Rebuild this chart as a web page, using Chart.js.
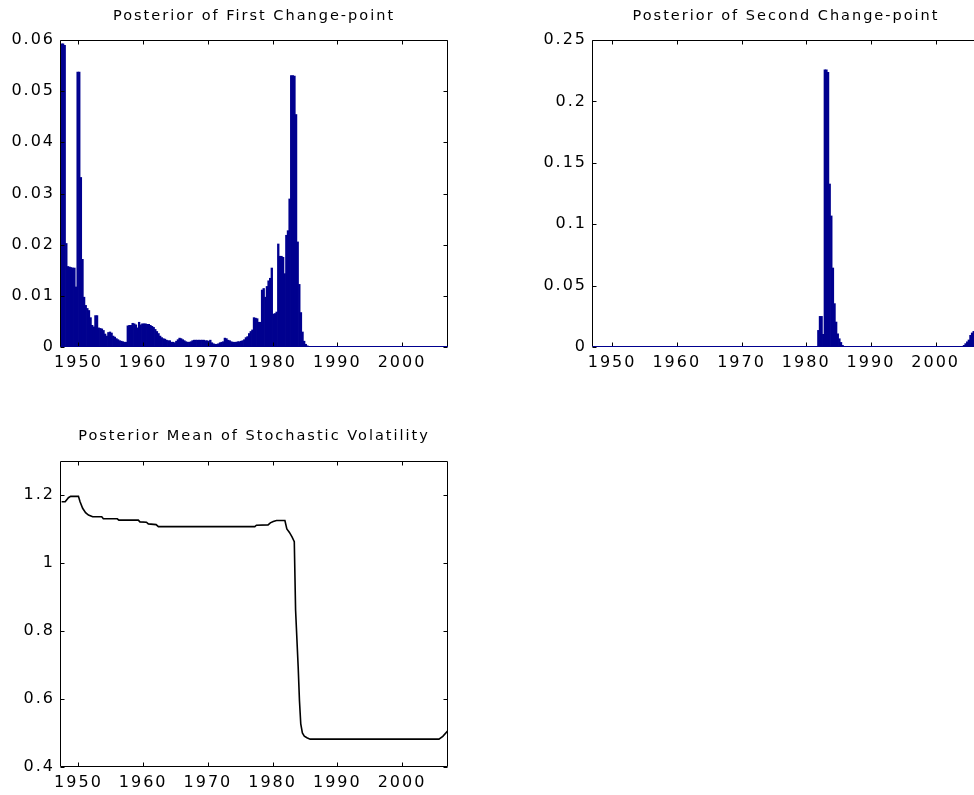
<!DOCTYPE html>
<html>
<head>
<meta charset="utf-8">
<script src="https://cdn.jsdelivr.net/npm/chart.js@4.4.1/dist/chart.umd.min.js"></script>
<style>
  html, body { margin: 0; padding: 0; background: #fff; width: 974px; height: 795px; overflow: hidden; }
  canvas { position: absolute; }
  #c1 { left: 0px; top: 0px; }
  #c2 { left: 532px; top: 0px; }
  #c3 { left: 0px; top: 420px; }
</style>
</head>
<body>
<canvas id="c1" width="480" height="390"></canvas>
<canvas id="c2" width="460" height="390"></canvas>
<canvas id="c3" width="480" height="375"></canvas>
<script>
// ---------- DATA ----------
// Quarterly posterior probabilities; first bin starts at 1947 Q2
const BIN_START = 1947.25;
const BIN_WIDTH = 0.25;

const titles = [
  'Posterior of First Change-point',
  'Posterior of Second Change-point',
  'Posterior Mean of Stochastic Volatility'
];

const xTickValues = [1950, 1960, 1970, 1980, 1990, 2000];
const xTickLabels = ['1950', '1960', '1970', '1980', '1990', '2000'];

const y1TickValues = [0, 0.01, 0.02, 0.03, 0.04, 0.05, 0.06];
const y1TickLabels = ['0', '0.01', '0.02', '0.03', '0.04', '0.05', '0.06'];
const y2TickValues = [0, 0.05, 0.1, 0.15, 0.2, 0.25];
const y2TickLabels = ['0', '0.05', '0.1', '0.15', '0.2', '0.25'];
const y3TickValues = [0.4, 0.6, 0.8, 1.0, 1.2];
const y3TickLabels = ['0.4', '0.6', '0.8', '1', '1.2'];

const firstChangePoint = [
  0.0593, 0.0593, 0.0590, 0.0203, 0.0158, 0.0157, 0.0156, 0.0155, 0.0155, 0.0118,
  0.0538, 0.0538, 0.0332, 0.0172, 0.0098, 0.0082, 0.0076, 0.0072, 0.0058, 0.0043,
  0.0040, 0.0062, 0.0062, 0.0038, 0.0037, 0.0036, 0.0033, 0.0026, 0.0022, 0.0029,
  0.0030, 0.0028, 0.0022, 0.0020, 0.0017, 0.0015, 0.0013, 0.0012, 0.0011, 0.0010,
  0.0010, 0.0042, 0.0043, 0.0043, 0.0047, 0.0046, 0.0044, 0.0038, 0.0049, 0.0044,
  0.0046, 0.0046, 0.0046, 0.0045, 0.0045, 0.0043, 0.0041, 0.0039, 0.0035, 0.0031,
  0.0027, 0.0022, 0.0019, 0.0017, 0.0016, 0.0014, 0.0013, 0.0013, 0.0010, 0.0010,
  0.0009, 0.0012, 0.0015, 0.0018, 0.0017, 0.0015, 0.0013, 0.0011, 0.0010, 0.0010,
  0.0011, 0.0013, 0.0014, 0.0014, 0.0014, 0.0014, 0.0014, 0.0014, 0.0014, 0.0013,
  0.0013, 0.0012, 0.0014, 0.0009, 0.0007, 0.0006, 0.0006, 0.0007, 0.0009, 0.0010,
  0.0011, 0.0018, 0.0017, 0.0014, 0.0013, 0.0011, 0.0010, 0.0010, 0.0010, 0.0011,
  0.0011, 0.0012, 0.0013, 0.0015, 0.0019, 0.0021, 0.0027, 0.0031, 0.0034, 0.0058,
  0.0057, 0.0056, 0.0049, 0.0049, 0.0112, 0.0115, 0.0098, 0.0119, 0.0130, 0.0135,
  0.0155, 0.0065, 0.0066, 0.0069, 0.0202, 0.0178, 0.0178, 0.0176, 0.0144, 0.0219,
  0.0228, 0.0290, 0.0531, 0.0531, 0.0530, 0.0455, 0.0206, 0.0123, 0.0068, 0.0030,
  0.0012, 0.0006, 0.0003, 0.0001,
  0, 0, 0, 0, 0, 0, 0, 0, 0, 0, 0, 0, 0, 0, 0, 0, 0, 0, 0, 0,
  0, 0, 0, 0, 0, 0, 0, 0, 0, 0, 0, 0, 0, 0, 0, 0, 0, 0, 0, 0,
  0, 0, 0, 0, 0, 0, 0, 0, 0, 0, 0, 0, 0, 0, 0, 0, 0, 0, 0, 0,
  0, 0, 0, 0, 0, 0, 0, 0, 0, 0, 0, 0, 0, 0, 0, 0, 0, 0, 0, 0,
  0, 0, 0, 0, 0
];

const secondChangePoint = [
  0, 0, 0, 0, 0, 0, 0, 0, 0, 0, 0, 0, 0, 0, 0, 0, 0, 0, 0, 0,
  0, 0, 0, 0, 0, 0, 0, 0, 0, 0, 0, 0, 0, 0, 0, 0, 0, 0, 0, 0,
  0, 0, 0, 0, 0, 0, 0, 0, 0, 0, 0, 0, 0, 0, 0, 0, 0, 0, 0, 0,
  0, 0, 0, 0, 0, 0, 0, 0, 0, 0, 0, 0, 0, 0, 0, 0, 0, 0, 0, 0,
  0, 0, 0, 0, 0, 0, 0, 0, 0, 0, 0, 0, 0, 0, 0, 0, 0, 0, 0, 0,
  0, 0, 0, 0, 0, 0, 0, 0, 0, 0, 0, 0, 0, 0, 0, 0, 0, 0, 0, 0,
  0, 0, 0, 0, 0, 0, 0, 0, 0, 0, 0, 0, 0, 0, 0, 0, 0, 0,
  0.0138, 0.0252, 0.0252, 0.0106, 0.226, 0.226, 0.224, 0.133, 0.107, 0.0646,
  0.0356, 0.0206, 0.011, 0.007, 0.004, 0.0016, 0.0006, 0.0002,
  0, 0, 0, 0, 0, 0, 0, 0, 0, 0, 0, 0, 0, 0, 0, 0, 0, 0, 0, 0,
  0, 0, 0, 0, 0, 0, 0, 0, 0, 0, 0, 0, 0, 0, 0, 0, 0, 0, 0, 0,
  0, 0, 0, 0, 0, 0, 0, 0, 0, 0, 0, 0, 0, 0, 0, 0, 0, 0, 0, 0,
  0, 0, 0, 0, 0, 0, 0, 0, 0, 0, 0,
  0.0008, 0.0016, 0.003, 0.0045, 0.006, 0.0098, 0.0117, 0.013, 0.014, 0.015,
  0.016, 0.017
];

const volYears = [
  1947.4, 1947.95, 1948.45, 1948.8, 1950.0, 1950.25, 1950.65, 1951.1, 1951.55, 1952.2,
  1953.6, 1953.85, 1956.0, 1956.25, 1959.25, 1959.5, 1960.5, 1960.8, 1962.0, 1962.35,
  1977.25, 1977.5, 1979.3, 1979.65, 1980.1, 1980.6, 1981.9, 1982.2, 1982.6, 1983.0,
  1983.35, 1983.55, 1983.95, 1984.15, 1984.35, 1984.6, 1984.9, 1985.3, 1985.8, 2005.7,
  2006.3, 2007.1
];
const volValues = [
  1.180, 1.180, 1.192, 1.196, 1.196, 1.180, 1.161, 1.148, 1.141, 1.136,
  1.136, 1.130, 1.130, 1.126, 1.126, 1.121, 1.120, 1.115, 1.113, 1.107,
  1.107, 1.111, 1.112, 1.118, 1.122, 1.125, 1.125, 1.100, 1.090, 1.077,
  1.063, 0.862, 0.695, 0.595, 0.527, 0.500, 0.491, 0.486, 0.482, 0.482,
  0.490, 0.507
];

// ---------- STYLE ----------
const NAVY = '#00008f';
const FONT = '"DejaVu Sans", "Liberation Sans", Arial, sans-serif';

const framePlugin = {
  id: 'frame',
  beforeLayout(chart) { chart.ctx.letterSpacing = '2px'; },
  beforeDraw(chart) { chart.ctx.letterSpacing = '2px'; },
  afterDatasetsDraw(chart, args, opts) {
    const { ctx, chartArea: a, scales } = chart;
    const L = Math.round(a.left) + 0.5, R = Math.round(a.right) - 0.5;
    const T = Math.round(a.top) + 0.5, B = Math.round(a.bottom) - 0.5;
    const tl = 4;
    ctx.save();
    ctx.strokeStyle = '#000';
    ctx.lineWidth = 1;
    ctx.beginPath();
    ctx.moveTo(L, T); ctx.lineTo(R, T); ctx.lineTo(R, B); ctx.lineTo(L, B); ctx.closePath();
    scales.x.ticks.forEach(t => {
      const px = Math.round(scales.x.getPixelForValue(t.value)) + 0.5;
      ctx.moveTo(px, B); ctx.lineTo(px, B - tl);
      ctx.moveTo(px, T); ctx.lineTo(px, T + tl);
    });
    scales.y.ticks.forEach(t => {
      const py = Math.round(scales.y.getPixelForValue(t.value)) + 0.5;
      ctx.moveTo(L, py); ctx.lineTo(L + tl, py);
      ctx.moveTo(R, py); ctx.lineTo(R - tl, py);
    });
    ctx.stroke();
    if (opts && opts.baseline) {
      const y0 = Math.round(scales.y.getPixelForValue(0)) - 0.5;
      ctx.strokeStyle = NAVY;
      ctx.beginPath();
      ctx.moveTo(L, y0); ctx.lineTo(R + 0.5, y0);
      ctx.stroke();
    }
    ctx.restore();
  }
};

function makeOptions(title, xmin, xmax, ymin, ymax, yVals, yLabels, xAxisH, titlePad, baseline, rightPad) {
  return {
    responsive: false,
    animation: false,
    devicePixelRatio: 1,
    layout: { padding: { left: 0, right: rightPad, top: 0, bottom: 0 } },
    plugins: {
      legend: { display: false },
      tooltip: { enabled: false },
      title: {
        display: true,
        fullSize: false,
        text: title,
        color: '#000',
        font: { family: FONT, size: 14.5, weight: 'normal', lineHeight: 1.2 },
        padding: titlePad
      },
      frame: { baseline: baseline }
    },
    scales: {
      x: {
        type: 'linear',
        offset: false,
        min: xmin, max: xmax,
        grid: { display: false, drawTicks: false, offset: false },
        border: { display: false },
        afterBuildTicks: s => { s.ticks = xTickValues.map(v => ({ value: v })); },
        afterFit: s => { s.height = xAxisH; },
        ticks: {
          color: '#000',
          padding: 6,
          maxRotation: 0,
          autoSkip: false,
          font: { family: FONT, size: 16 },
          callback: (v) => xTickLabels[xTickValues.indexOf(v)]
        }
      },
      y: {
        type: 'linear',
        min: ymin, max: ymax,
        grid: { display: false, drawTicks: false },
        border: { display: false },
        afterBuildTicks: s => { s.ticks = yVals.map(v => ({ value: v })); },
        afterFit: s => { s.width = 60; },
        ticks: {
          color: '#000',
          padding: 5,
          autoSkip: false,
          font: { family: FONT, size: 16 },
          callback: (v) => yLabels[yVals.indexOf(v)]
        }
      }
    }
  };
}

function binsToPoints(values) {
  return values.map((v, i) => ({ x: BIN_START + i * BIN_WIDTH + BIN_WIDTH / 2, y: v }));
}

function barDataset(values) {
  return {
    type: 'bar',
    data: binsToPoints(values),
    backgroundColor: NAVY,
    borderWidth: 0,
    inflateAmount: 0,
    barPercentage: 1.45,
    categoryPercentage: 1.0
  };
}

new Chart(document.getElementById('c1'), {
  type: 'bar',
  data: { datasets: [barDataset(firstChangePoint)] },
  options: makeOptions(titles[0], 1947.15, 2007.1, 0, 0.06, y1TickValues, y1TickLabels, 43,
    { top: 8, bottom: 14.6 }, true, 32),
  plugins: [framePlugin]
});

new Chart(document.getElementById('c2'), {
  type: 'bar',
  data: { datasets: [barDataset(secondChangePoint)] },
  options: makeOptions(titles[1], 1946.9, 2006.85, 0, 0.25, y2TickValues, y2TickLabels, 43,
    { top: 8, bottom: 14.6 }, true, 12),
  plugins: [framePlugin]
});

new Chart(document.getElementById('c3'), {
  type: 'line',
  data: {
    datasets: [{
      data: volYears.map((yr, i) => ({ x: yr, y: volValues[i] })),
      borderColor: '#000',
      borderWidth: 1.6,
      pointRadius: 0,
      tension: 0,
      fill: false
    }]
  },
  options: makeOptions(titles[2], 1947.15, 2007.1, 0.4, 1.3, y3TickValues, y3TickLabels, 28,
    { top: 8, bottom: 15.6 }, false, 32),
  plugins: [framePlugin]
});
</script>
</body>
</html>
